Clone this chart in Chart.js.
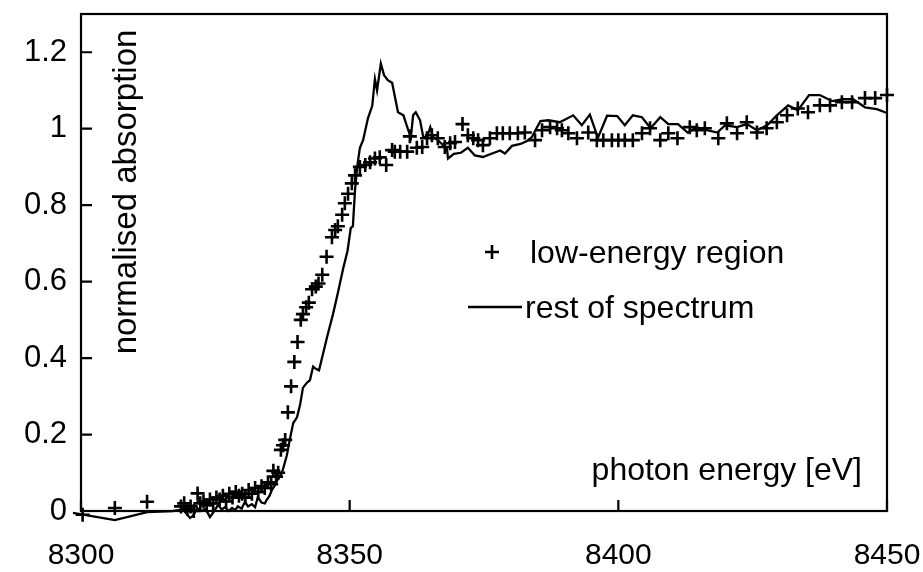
<!DOCTYPE html>
<html><head><meta charset="utf-8">
<script src="https://cdn.jsdelivr.net/npm/chart.js@4/dist/chart.umd.min.js"></script>
<style>html,body{margin:0;padding:0;background:#fff}canvas{display:block}</style>
</head><body>
<canvas id="c" width="923" height="572"></canvas>
<script>
// ---- data ----
const seriesNames = ["low-energy region", "rest of spectrum"];
const xTitle = "photon energy [eV]";
const yTitle = "normalised absorption";
const xTickValues = [8300, 8350, 8400, 8450];
const yTickValues = [0, 0.2, 0.4, 0.6, 0.8, 1, 1.2];

const lowX = [8300.3,8306.3,8312.3,
 8318.6,8319.2,8319.8,8320.4,8321.0,8321.7,8322.2,8322.8,8323.4,8324.0,8324.6,8325.2,8325.8,8326.4,8327.0,8327.6,8328.2,8328.8,8329.4,8330.0,8330.6,8331.2,8331.8,8332.4,8333.0,8333.6,8334.2,8334.8,8335.4,8335.8,8336.3,8336.7,
 8337.2,8337.6,8338.0,8338.5,8339.1,8339.7,8340.3,8340.9,8341.3,8341.9,8342.4,8343.0,8343.7,8344.2,8344.9,8345.7,8346.7,8347.3,8347.8,8348.6,8349.1,8349.7,8350.4,8351.0,8351.9,8352.9,8353.8,8354.7,8355.6,8356.8,8357.9,8358.4,8359.4,8360.7,8361.2,8362.5,8363.5,8364.4,8365.3,8366.4,8367.7,8368.7,8369.6,8371.0,8372.0,8373.0,8373.9,8374.8,8376.1,8377.4,8378.5,8379.8,8381.3,8382.6,8384.5,8385.8,8387.3,8388.6,8389.5,8390.7,8392.3,8394.4,8396.0,8397.2,8398.8,8400.0,8401.2,8402.7,8404.4,8405.9,8407.8,8409.3,8411.0,8413.3,8414.6,8416.1,8418.6,8420.2,8422.1,8423.9,8425.8,8427.6,8429.5,8431.4,8433.4,8435.3,8437.5,8439.4,8441.6,8443.5,8445.9,8447.8,8450.0,8451.5];
const lowY = [-0.01,0.008,0.024,
 0.012,0.02,0.005,0.012,0.0,0.046,0.02,0.025,0.015,0.03,0.02,0.035,0.03,0.04,0.025,0.045,0.035,0.05,0.04,0.045,0.035,0.055,0.045,0.06,0.05,0.065,0.06,0.075,0.07,0.105,0.09,0.1,
 0.16,0.172,0.186,0.258,0.326,0.39,0.442,0.5,0.515,0.533,0.545,0.58,0.587,0.595,0.618,0.665,0.716,0.735,0.745,0.775,0.805,0.83,0.857,0.878,0.9,0.905,0.912,0.922,0.925,0.905,0.944,0.94,0.94,0.94,0.98,0.95,0.952,0.975,0.983,0.975,0.952,0.962,0.965,1.012,0.983,0.975,0.97,0.957,0.975,0.988,0.988,0.988,0.988,0.99,0.97,0.996,1.004,1.001,0.996,0.988,0.975,0.99,0.97,0.97,0.97,0.97,0.97,0.97,0.988,1.001,0.97,0.988,0.975,1.004,0.996,1.001,0.975,1.014,0.988,1.017,0.99,1.001,1.017,1.035,1.053,1.043,1.061,1.061,1.069,1.069,1.08,1.08,1.088,1.093];

const restX = [8298.5,8306.3,8312.3,8317.1,8318.4,8319.2,8320.3,8320.9,8321.6,8322.4,8323.2,8324.0,8324.7,8325.5,8326.2,8326.8,8327.5,8328.1,8328.7,8329.2,8329.9,8330.5,8331.1,8331.8,8332.4,8332.9,8333.6,8334.2,8334.6,8335.1,8335.5,8336.0,8336.5,8337.0,8337.4,8338.3,8338.9,8339.5,8340.2,8340.8,8341.3,8342.0,8342.6,8343.2,8343.7,8344.3,8345.8,8346.9,8347.8,8348.8,8349.6,8350.2,8350.6,8351.0,8351.4,8351.9,8352.5,8353.4,8354.2,8354.7,8355.1,8355.8,8356.4,8357.1,8357.9,8359.0,8360.0,8360.9,8361.4,8361.8,8362.3,8363.1,8363.7,8364.4,8365.0,8365.5,8366.4,8367.4,8368.1,8368.3,8369.4,8370.7,8372.0,8373.3,8374.8,8376.5,8378.0,8378.9,8380.2,8381.8,8383.0,8383.9,8385.5,8387.0,8389.1,8391.6,8393.2,8394.7,8396.2,8397.9,8399.8,8401.2,8402.7,8404.4,8406.0,8407.8,8409.3,8411.1,8412.9,8414.6,8416.5,8418.4,8419.9,8422.1,8423.9,8425.8,8427.7,8429.5,8431.6,8433.4,8435.5,8437.5,8439.8,8441.8,8443.7,8445.9,8448.1,8450.0,8451.9];
const restY = [-0.005,-0.024,-0.003,0.0,0.003,0.0,-0.018,-0.012,0.008,0.0,0.005,-0.016,-0.002,0.016,0.004,0.01,0.0,0.008,0.002,0.012,0.006,0.024,0.012,0.018,0.01,0.036,0.022,0.02,0.03,0.04,0.055,0.065,0.08,0.09,0.1,0.145,0.19,0.23,0.245,0.28,0.322,0.335,0.342,0.378,0.372,0.368,0.455,0.515,0.57,0.635,0.68,0.74,0.745,0.84,0.9,0.95,0.97,1.027,1.06,1.13,1.1,1.17,1.14,1.127,1.12,1.043,1.035,0.996,0.978,1.035,1.043,1.022,0.978,0.978,1.004,0.978,0.97,0.957,0.95,0.922,0.934,0.937,0.95,0.93,0.926,0.935,0.943,0.935,0.955,0.96,0.968,0.978,1.02,1.022,1.017,1.035,1.009,1.037,0.976,1.034,1.033,1.009,1.035,1.03,1.001,1.03,1.012,1.012,0.99,1.004,0.996,0.99,1.009,1.004,1.012,0.996,1.009,1.035,1.061,1.048,1.088,1.088,1.072,1.077,1.077,1.056,1.051,1.041,1.056];

const FONT = "'Liberation Sans', Arial, sans-serif";

const decor = {
  id: 'decor',
  afterDraw(chart) {
    const ctx = chart.ctx, a = chart.chartArea;
    const xs = chart.scales.x, ys = chart.scales.y;
    ctx.save();
    ctx.strokeStyle = '#000';
    ctx.lineWidth = 2.2;
    ctx.strokeRect(a.left, a.top, a.right - a.left, a.bottom - a.top);
    // inward tick marks
    ctx.beginPath();
    xTickValues.forEach(v => { const p = xs.getPixelForValue(v); ctx.moveTo(p, a.bottom); ctx.lineTo(p, a.bottom - 11); });
    yTickValues.forEach(v => { const p = ys.getPixelForValue(v); ctx.moveTo(a.left, p); ctx.lineTo(a.left + 11, p); });
    ctx.stroke();
    // titles
    ctx.fillStyle = '#000';
    ctx.font = '32px ' + FONT;
    ctx.textAlign = 'right';
    ctx.textBaseline = 'alphabetic';
    ctx.fillText(xTitle, 862, 480);
    ctx.save();
    ctx.font = '33px ' + FONT;
    ctx.translate(136, 192);
    ctx.rotate(-Math.PI / 2);
    ctx.textAlign = 'center';
    ctx.fillText(yTitle, 0, 0);
    ctx.restore();
    // legend
    ctx.textAlign = 'left';
    ctx.lineWidth = 2.6;
    ctx.beginPath();
    ctx.moveTo(485, 252); ctx.lineTo(499, 252);
    ctx.moveTo(492, 245); ctx.lineTo(492, 259);
    ctx.stroke();
    ctx.fillText(seriesNames[0], 530, 263);
    ctx.lineWidth = 2.3;
    ctx.beginPath();
    ctx.moveTo(468, 307); ctx.lineTo(522, 307);
    ctx.stroke();
    ctx.fillText(seriesNames[1], 525, 318);
    ctx.restore();
  }
};

new Chart(document.getElementById('c'), {
  type: 'scatter',
  data: {
    datasets: [
      {
        label: seriesNames[0],
        data: lowX.map((x, i) => ({ x, y: lowY[i] })),
        pointStyle: 'cross',
        pointRadius: 7,
        pointBorderWidth: 2.6,
        borderColor: '#000',
        backgroundColor: '#000',
        showLine: false,
        clip: false
      },
      {
        label: seriesNames[1],
        data: restX.map((x, i) => ({ x, y: restY[i] })),
        showLine: true,
        pointRadius: 0,
        borderColor: '#000',
        borderWidth: 2.3,
        tension: 0,
        clip: false
      }
    ]
  },
  options: {
    responsive: false,
    animation: false,
    events: [],
    layout: { padding: { top: 14, right: 36, left: 0, bottom: 0 } },
    plugins: { legend: { display: false }, tooltip: { enabled: false } },
    scales: {
      x: {
        type: 'linear', min: 8300, max: 8450,
        afterFit: s => { s.height = 61; s.paddingLeft = 0; s.paddingRight = 0; s.paddingTop = 0; s.paddingBottom = 0; },
        afterBuildTicks: s => { s.ticks = xTickValues.map(v => ({ value: v })); },
        grid: { display: false, drawTicks: false },
        border: { display: false },
        ticks: { font: { size: 30, family: FONT }, color: '#000', padding: 27, maxRotation: 0, callback: v => String(v) }
      },
      y: {
        type: 'linear', min: 0, max: 1.3,
        afterFit: s => { s.width = 81; s.paddingLeft = 0; s.paddingRight = 0; s.paddingTop = 0; s.paddingBottom = 0; },
        afterBuildTicks: s => { s.ticks = yTickValues.map(v => ({ value: v })); },
        grid: { display: false, drawTicks: false },
        border: { display: false },
        ticks: { font: { size: 31, family: FONT }, color: '#000', padding: 14, callback: v => String(v) }
      }
    }
  },
  plugins: [decor]
});
</script>
</body></html>
